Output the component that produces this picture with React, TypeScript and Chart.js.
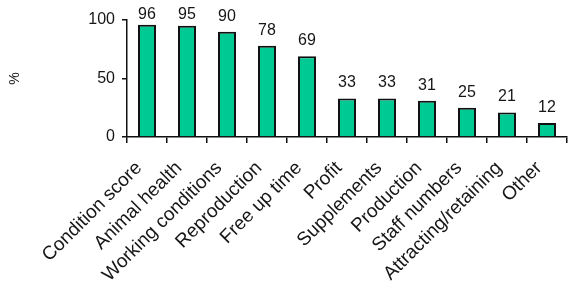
import React, { useEffect, useRef } from "react";
import { Chart, registerables } from "chart.js";

Chart.register(...registerables);

const categories = [
  "Condition score",
  "Animal health",
  "Working conditions",
  "Reproduction",
  "Free up time",
  "Profit",
  "Supplements",
  "Production",
  "Staff numbers",
  "Attracting/retaining",
  "Other",
];
const percentages = [96, 95, 90, 78, 69, 33, 33, 31, 25, 21, 12];
const yTicks = [0, 50, 100];

const FONT = "'Liberation Sans', Arial, sans-serif";
const TEXT = "#161616";

const valueLabels = {
  id: "valueLabels",
  afterDatasetsDraw(chart: any) {
    const ctx = chart.ctx;
    const meta = chart.getDatasetMeta(0);
    const data = chart.data.datasets[0].data as number[];
    ctx.save();
    ctx.font = `16px ${FONT}`;
    ctx.fillStyle = TEXT;
    ctx.textAlign = "center";
    ctx.textBaseline = "alphabetic";
    meta.data.forEach((bar: any, i: number) => {
      const y = Math.max(bar.y - 11, 19);
      ctx.fillText(String(data[i]), bar.x, y);
    });
    ctx.restore();
  },
};

export default function App() {
  const ref = useRef<HTMLCanvasElement | null>(null);
  useEffect(() => {
    if (!ref.current) return;
    const chart = new Chart(ref.current, {
      type: "bar",
      data: {
        labels: categories,
        datasets: [
          {
            data: percentages,
            backgroundColor: "#00C994",
            borderColor: "#111111",
            borderWidth: 2,
            categoryPercentage: 1,
            barPercentage: 0.45,
          },
        ],
      },
      options: {
        animation: false,
        responsive: false,
        layout: { padding: { top: 20, right: 1, left: 0, bottom: 0 } },
        plugins: {
          legend: { display: false },
          tooltip: { enabled: false },
        },
        scales: {
          x: {
            offset: true,
            border: { display: true, color: "#111", width: 1.5 },
            grid: {
              offset: true,
              drawOnChartArea: false,
              drawTicks: true,
              tickLength: 6,
              color: "#111",
              lineWidth: 1.5,
            },
            ticks: {
              autoSkip: false,
              maxRotation: 45,
              minRotation: 45,
              padding: 14,
              labelOffset: -8,
              color: TEXT,
              font: { family: FONT, size: 19 },
            },
            afterFit(scale: any) {
              scale.height = 149;
              scale.paddingLeft = 0;
              scale.paddingRight = 0;
            },
          },
          y: {
            min: 0,
            max: 100,
            afterBuildTicks(scale: any) {
              scale.ticks = yTicks.map((v) => ({ value: v }));
            },
            border: { display: true, color: "#111", width: 1.5 },
            grid: {
              drawOnChartArea: false,
              drawTicks: true,
              tickLength: 5,
              color: "#111",
              lineWidth: 1.5,
            },
            ticks: {
              padding: 7,
              color: TEXT,
              font: { family: FONT, size: 16 },
            },
            title: {
              display: true,
              text: "%",
              color: TEXT,
              font: { family: FONT, size: 14 },
              padding: { top: 7, bottom: 0 },
            },
            afterFit(scale: any) {
              scale.width = 127;
            },
          },
        },
      },
      plugins: [valueLabels],
    });
    return () => chart.destroy();
  }, []);
  return (
    <canvas
      ref={ref}
      width={568}
      height={286}
      style={{ position: "absolute", left: 0, top: 0, width: 568, height: 286 }}
    />
  );
}
